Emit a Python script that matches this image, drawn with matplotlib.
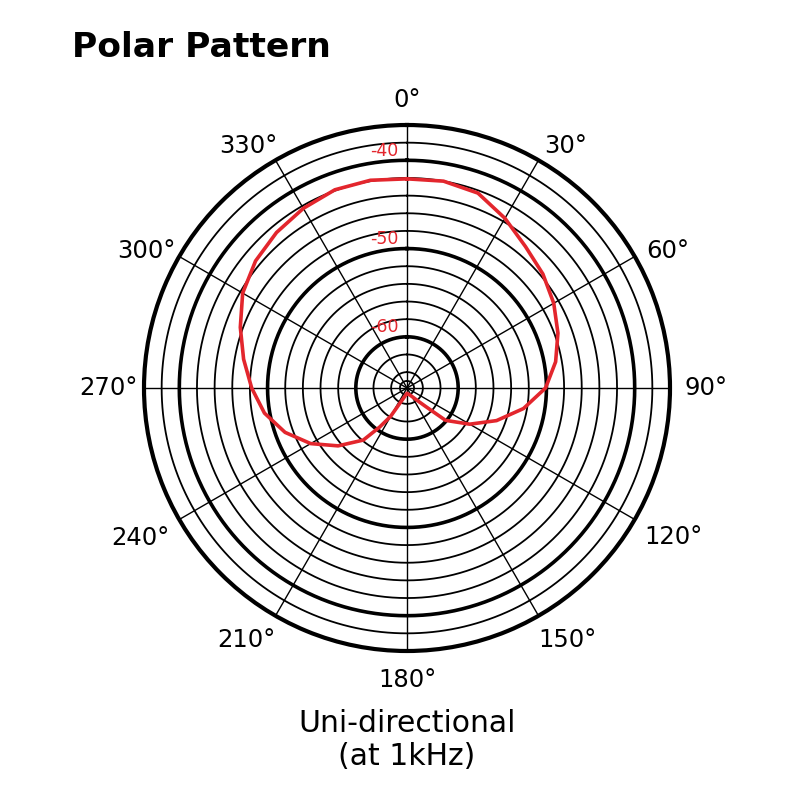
import numpy as np
import matplotlib.pyplot as plt

# 角度 (度) 和 响应 (dB)
angles = [0, 10, 20, 30, 40, 50, 60, 70, 80, 90, 100, 110, 120, 130, 135, 140,
          150, 160, 170, 180, 190, 200, 205, 210, 215, 220, 230, 240, 250, 260,
          270, 280, 290, 300, 310, 320, 330, 340, 350, 360]
response_db = [-42.1, -42.0, -42.3, -43.6, -44.9, -45.7, -46.6, -47.6, -48.7,
               -50.1, -52.4, -55.0, -57.6, -60.1, -62.9, -63.9, -64.7, -65.0,
               -65.1, -65.2, -65.0, -64.5, -63.9, -62.1, -60.4, -58.1, -55.6,
               -53.2, -51.1, -49.4, -48.2, -47.0, -45.7, -44.3, -43.4, -42.8,
               -42.3, -41.9, -41.9, -42.1]

thin_rings = [-38, -42, -44, -46, -48, -52, -54, -56, -58, -62, -64, -65]
thick_rings = [-40, -50, -60]
ring_labels = ['-40', '-50', '-60']
spoke_angles = [0, 30, 60, 90, 120, 150, 180, 210, 240, 270, 300, 330]
angle_labels = ['0°', '30°', '60°', '90°', '120°', '150°', '180°', '210°',
                '240°', '270°', '300°', '330°']
# 标签相对于外圈端点的偏移 (像素, 向右/向上)
label_offsets = [(0, 25), (27, 14), (33, 5), (36, 0), (39, -18), (29, -24),
                 (0, -29), (-29, -24), (-39, -18), (-36, 0), (-33, 5), (-27, 14)]

r_min, r_max = -65.8, -36.0
red = '#e3262d'

fig = plt.figure(figsize=(8, 8), dpi=100)
ax = fig.add_axes([0.18, 0.18625, 0.6575, 0.6575], projection='polar')
ax.set_theta_zero_location('N')
ax.set_theta_direction(-1)
ax.set_rlim(r_min, r_max)
ax.grid(False)
ax.set_xticks([])
ax.set_yticks([])
ax.spines['polar'].set_linewidth(3.0)

circle = np.linspace(0, 2 * np.pi, 721)
for lv in thin_rings:
    ax.plot(circle, np.full_like(circle, lv), color='black', lw=1.3, zorder=1)
for lv in thick_rings:
    ax.plot(circle, np.full_like(circle, lv), color='black', lw=2.6, zorder=1)
for a in spoke_angles:
    ax.plot([np.deg2rad(a)] * 2, [r_min, r_max], color='black', lw=1.0, zorder=1)

# 曲线
ax.plot(np.deg2rad(angles), response_db, color=red, lw=2.6, zorder=3)

# 红色刻度标签
for lv, lab in zip(thick_rings, ring_labels):
    ax.annotate(lab, xy=(0, lv), xytext=(-6, 7), textcoords='offset points',
                ha='right', va='center', color=red, fontsize=12.5,
                family='DejaVu Sans', zorder=4)

# 角度标签
for a, lab, off in zip(spoke_angles, angle_labels, label_offsets):
    ax.annotate(lab, xy=(np.deg2rad(a), r_max), xytext=off,
                textcoords='offset pixels', ha='center', va='center',
                fontsize=17.5, family='DejaVu Sans', annotation_clip=False)

fig.text(72 / 800, 1 - 57 / 800, 'Polar Pattern', fontsize=24.8, fontweight='bold',
         family='DejaVu Sans', va='baseline', ha='left')
fig.text(407 / 800, 1 - 732 / 800, 'Uni-directional', fontsize=21.5,
         family='DejaVu Sans', va='baseline', ha='center')
fig.text(407 / 800, 1 - 765 / 800, '(at 1kHz)', fontsize=21.5,
         family='DejaVu Sans', va='baseline', ha='center')

fig.savefig('out.png', dpi=100, facecolor='white')
